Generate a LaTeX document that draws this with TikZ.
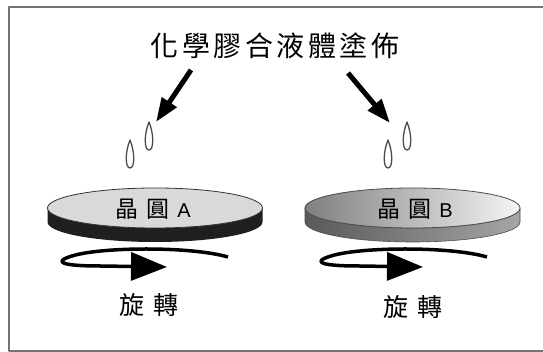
\documentclass[tikz,border=0pt]{standalone}
\usepackage{fontspec}
\setsansfont{Liberation Sans}
\newfontfamily\cjk{Noto Sans CJK TC}
\usetikzlibrary{arrows.meta}

\begin{document}
\begin{tikzpicture}[x=1pt,y=1pt,declare function={bk=107.5;dep=20;day=14;},line join=round]
	\tikzset{chu/.style={inner sep=0pt,font=\cjk\fontsize{25}{25}\selectfont},
		muiten/.style={line width=5pt,-{Triangle[length=24pt,width=17pt]}},
		xoay/.style={line width=3.5pt,-{Triangle[length=36pt,width=28pt]}},
		giot/.style={draw=black!70,line width=1.3pt,fill=white}}
	\useasboundingbox (0,0) rectangle (543,352);
	
	% Khung
	\draw[black!55,line width=2pt] (546,345) -- (9,345) -- (9,1) -- (546,1);
	
	% Tiêu đề và mũi tên xuống
	\node[chu,font=\cjk\fontsize{28}{28}\selectfont] (tieude) at (275,306)
		{化\hspace{3.5pt}學\hspace{3.5pt}膠\hspace{3.5pt}合\hspace{3.5pt}液\hspace{3.5pt}體\hspace{3.5pt}塗\hspace{3.5pt}佈};
	\coordinate (dauA) at (191,282);
	\coordinate (muiA) at (156,230);
	\coordinate (dauB) at (348,279);
	\coordinate (muiB) at (390,229);
	\draw[muiten] (dauA) -- (muiA);
	\draw[muiten] (dauB) -- (muiB);
	
	% Giọt chất lỏng
	\foreach \x/\y in {149/230,130/212,407/230,388/212}
		\draw[giot] (\x,\y) .. controls +(5,-12) and +(5,0) .. ({\x},{\y-28})
			.. controls +(-5,0) and +(-5,-12) .. (\x,\y) -- cycle;
	
	% Đĩa A
	\fill[black!88] (47.5,144) -- (47.5,{144-day}) arc[start angle=180,end angle=360,x radius=bk,y radius=dep]
		-- (262.5,144) arc[start angle=0,end angle=-180,x radius=bk,y radius=dep] -- cycle;
	\draw[black!80,fill=black!15,line width=0.8pt] (155,144) ellipse[x radius=bk,y radius=dep];
	\node[chu,font=\cjk\fontsize{23}{23}\selectfont] (nhanA) at (153,143)
		{晶\hspace{8pt}圓\hspace{8pt}{\sffamily\fontsize{20}{20}\selectfont A}};
	
	% Đĩa B
	\shade[left color=black!65,right color=black!35,draw=black!70,line width=0.6pt] (305,144) -- (305,{144-day})
		arc[start angle=180,end angle=360,x radius=bk,y radius=dep]
		-- (520,144) arc[start angle=0,end angle=-180,x radius=bk,y radius=dep] -- cycle;
	\shade[left color=black!50,right color=black!4] (412.5,144) ellipse[x radius=bk,y radius=dep];
	\draw[black!70,line width=0.8pt] (412.5,144) ellipse[x radius=bk,y radius=dep];
	\node[chu,font=\cjk\fontsize{23}{23}\selectfont] (nhanB) at (415,143)
		{晶\hspace{8pt}圓\hspace{8pt}{\sffamily\fontsize{20}{20}\selectfont B}};
	
	% Mũi tên quay
	\draw[xoay] (228,95) .. controls (190,106) and (100,105) .. (72,96)
		.. controls (52,90) and (62,86) .. (100,86) -- (167,85);
	\draw[xoay] (487,95) .. controls (449,106) and (359,105) .. (331,96)
		.. controls (311,90) and (321,86) .. (359,86) -- (423,85);
	\node[chu] (quayA) at (149,47) {旋\hspace{9pt}轉};
	\node[chu] (quayB) at (413,45) {旋\hspace{9pt}轉};
\end{tikzpicture}
\end{document}
